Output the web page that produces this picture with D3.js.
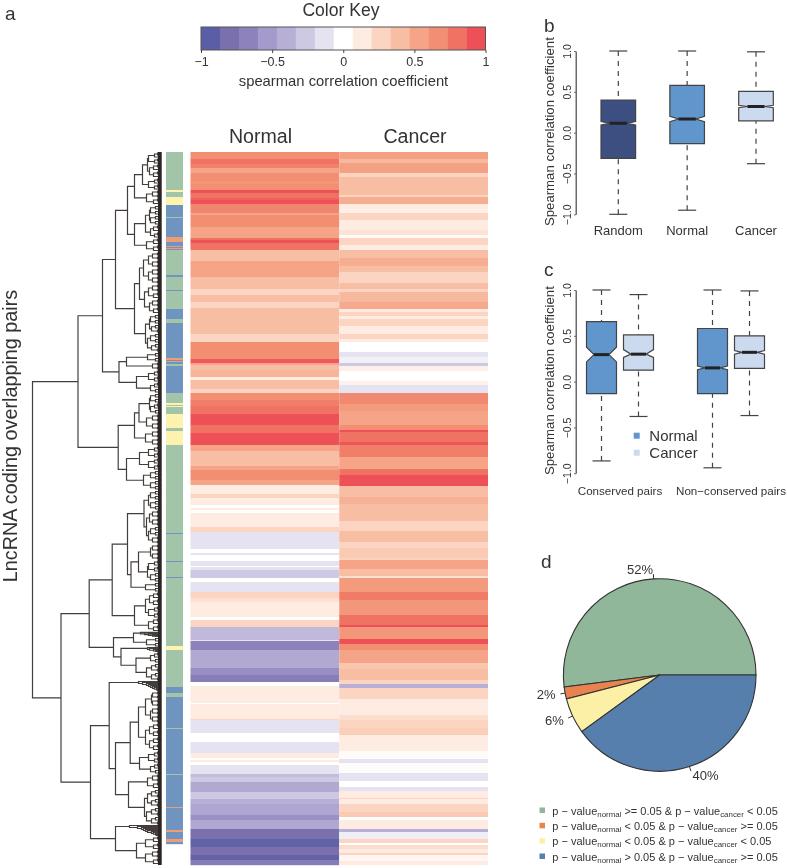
<!DOCTYPE html>
<html>
<head>
<meta charset="utf-8">
<script src="https://cdn.jsdelivr.net/npm/d3@7/dist/d3.min.js"></script>
<style>
body { margin: 0; background: #fff; }
svg { filter: blur(0.35px); }
text { font-family: "Liberation Sans", Arial, sans-serif; fill: #333; }
</style>
</head>
<body>
<div id="chart"></div>
<script>
// heatmap runs: colour level (-7..7, one level = 1/7.5 of the key) and how many rows it lasts
var columns = ['Normal', 'Cancer'];
var normalLevels = [5,6,5.5,4,5,4.7,5,7,6,6.5,7,5.3,4,5,4,6,7,6,3,4,3,2,3,2,3,2,5,6.7,4,3,3.4,1,3,2,5,5.6,6,7,6,7,4,3,4,5,4,1,2,1,0,1,0,1,2,-1,0,-1,0,-1,0,-1,-2,0,-1,2,1.5,1,1,0,2,-2.6,-1,-5,-3.3,-4.5,-5.3,0,1,0,1,2,-1,0,-1,1,0,1,0,-1,-2.5,-2,-3.3,-2,-3,-3.5,-4.4,-3.4,-6,-6.8,-6,-6.7,-5.4];
var normalRows = [7,5,4,5,8,3,6,3,5,2,4,9,2,12,11,2,3,7,11,16,12,6,7,6,26,8,17,4,2,5,7,3,9,4,7,6,8,11,8,12,6,15,4,10,5,9,4,7,3,2,3,14,5,17,4,2,6,5,1,3,8,4,10,6,4,8,7,3,7,13,1,9,18,7,7,4,17,1,15,1,13,9,11,5,2,2,3,9,3,5,10,7,5,11,5,9,10,8,8,5,5];
var cancerLevels = [4.2,3.2,4.2,2,3,3,2,3.6,1,0.8,2,1,1.4,0.3,2,1,3,3.6,3,2,3,2,3.2,3.8,1,2,1,2,1,2,1,0,-1,-0.5,-2,0.8,0,0.7,-1,5.2,4.5,4,5,7,6,6.8,5.6,4,6,7,3,3.5,3,2,3,2,2.5,2,4,3,1.5,4.5,5.7,4.6,6,7,4.6,7,5,4,2.6,3,2,-3,2,1,1.6,2,2.3,1,1,0.2,-1,0.1,-1,0,-1,1,2,1,2,2.5,0,1,-3,-0.6,2,0,1.7,1,2,0.5,1];
var cancerRows = [7,4,10,4,4,14,2,7,5,4,7,10,5,3,7,5,8,8,6,11,6,3,10,7,3,4,3,7,8,5,3,10,5,6,3,5,10,4,8,11,7,14,5,2,10,3,12,12,6,11,11,7,17,10,11,6,10,2,9,7,2,14,8,15,10,2,12,5,6,13,6,11,4,4,11,16,5,8,7,6,10,8,4,10,8,6,4,7,1,5,8,5,3,9,3,7,4,2,4,4,2,6,4];
var levelValues = [-7,-6,-5,-4,-3,-2,-1,0,1,2,3,4,5,6,7];
var levelColors = ['#5B5EA6','#7A70AE','#8D82BB','#A49ACB','#B8AFD6','#CDC9E3','#E5E3F1','#FFFFFF','#FEEBE2','#FBD5C2','#F8BEA4','#F5A487','#F28F73','#EF7262','#EE5058'];
var keyTicks = [-1,-0.5,0,0.5,1];
var keyTickLabels = ['\u22121','\u22120.5','0','0.5','1'];

// side bar classes: 0 green, 1 orange, 2 yellow, 3 blue
var sideClasses = [0,2,0,2,3,0,3,1,3,1,3,1,3,0,3,0,3,0,3,0,3,1,3,1,3,0,3,0,2,0,2,0,2,0,2,0,3,0,3,0,3,0,2,0,3,0,3,0,3,0,3,1,3,1,3,1,3];
var sideRows = [38,2,5,8,12,1,19,5,4,1,1,1,1,25,2,13,1,18,10,4,35,2,1,1,2,2,27,10,2,1,1,7,14,3,14,88,1,27,1,15,1,68,4,37,6,4,31,1,45,1,32,1,22,2,7,3,2,2,19];
var sideColors = ['#A2C5AA','#EE9C76','#FDF2AE','#6F94C0'];

// dendrogram: [merge height, child, child], a bare number is a leaf and the rows it spans
var t2 = [2,1,1], t3 = [3,[1.5,0.75,0.75],1.5];
var t4 = [4,t2,[2.5,1,1]], t5 = [6,t3,t2], t6 = [7,t4,t2], t7 = [8,t4,t3], t8 = [9,t4,t4];
var t9 = [10,t5,t4], t10 = [11,t5,t5], t11 = [11,t6,t5], t12 = [13,t6,t6], t14 = [12,t7,t7];
var ladderA = [21,0.8,[17,0.8,[13,0.8,[9,0.8,[6,0.8,1]]]]];
var ladderB = [14,1,[12,1,[8,1,[6,1,1]]]];
var ladderC = [23,1,[19,1,[15,1,[13,1,[11,1,[9,1,[7,1,[5,1,[4,1,1]]]]]]]]];
var ladderD = [32,1,[24,1,[20,1,[18,1,[16,1,[14,1,[10,1,[8,1,[6,1,[5,1,1]]]]]]]]]];
var treeTop = [83.5,
  [59,
    [46,
      [34,
        [27, [19,[14,t12,t14],t12], [15,t8,t7]],
        [27, [16,[12,t10,t10],[11,t7,t6]], [15,t7,t7]]],
      [27,
        [22,[18,[13,t8,t8],[13,t8,t8]],[17,[13,t8,t7],[12,t8,t7]]],
        [16,[12,t10,t9],[14,t10,t9]]]],
    [42.5,
      [35,[14,t5,t5],t8],
      [25,t12,t11]]],
  [43.3,
    [27,[22.5,[12,t10,t11],[15,t8,t8]],[16,t8,t8]],
    [35,[22,t12,t12],[18,t10,t10]]]];
var treeBottom = [100.5,
  [72.3,
    [49.3,
      [34,
        [17.5,[13,t10,t10],[15,[12,t8,t8],[13,t10,t8]]],
        [30.5,[23,[11,t8,t8],[14,t12,t10]],[16,t5,t5]]],
      [27,[16,t14,t12],[13,t7,t7]]],
    [48,
      [28,ladderA,[15,t5,t5]],
      [40.5,ladderB,[25.5,t11,[15,t9,t9]]]]],
  [71,
    [52.3,
      ladderC,
      [46,
        [31.3,
          [23,[16,[10,t8,t8],[11,t8,t8]],[16,t14,t14]],
          [22,t12,t11]],
        [33,[14,t8,t7],[17,[14,t9,t9],[15,t9,t9]]]]],
    [46,
      ladderD,
      [25,[16,t7,t7],[16,t8,t7]]]]];
var treeRoot = [129, treeTop, treeBottom];

// boxplots: notch low, notch high around the median
var boxStats = ['lo','q1','notchLo','med','notchHi','q3','hi'];
var panelBNames = ['Random','Normal','Cancer'];
var randomBox = [-1,-0.315,0.095,0.115,0.135,0.40,1];
var normalBox = [-0.95,-0.135,0.135,0.167,0.20,0.58,1];
var cancerBox = [-0.38,0.145,0.305,0.32,0.335,0.505,0.99];
var panelBFills = ['#3D4F80','#6096CC','#CCDAEF'];
var conservedNormal = [-0.865,-0.13,0.215,0.295,0.375,0.655,1];
var conservedCancer = [-0.38,0.125,0.265,0.30,0.35,0.51,0.95];
var nonConservedNormal = [-0.94,-0.13,0.13,0.15,0.17,0.58,1];
var nonConservedCancer = [-0.37,0.145,0.30,0.32,0.34,0.50,0.99];
var panelCGroups = ['Conserved pairs','Non\u2212conserved pairs'];
var panelCLegend = ['Normal','Cancer'];
var panelCFills = ['#6096CC','#CCDAEF'];
var axisTicks = [-1,-0.5,0,0.5,1];

// pie
var pieValues = [52,2,6,40];
var pieLabels = ['52%','2%','6%','40%'];
var pieColors = ['#90B799','#E8834F','#FCF0A6','#567FAE'];
var pieLegendOps = [['>=','<'],['<','>='],['<','<'],['>','>=']];

var INK = '#333';
var svg = d3.select('#chart').append('svg').attr('width', 787).attr('height', 868);

function label(txt, x, y, size, anchor, rotate){
    var t = svg.append('text').attr('font-size', size).attr('text-anchor', anchor || 'start').text(txt);
    if (rotate) t.attr('transform', 'translate(' + x + ',' + y + ') rotate(' + rotate + ')');
    else t.attr('x', x).attr('y', y);
    return t;
}

function runs(levels, counts){
    var start = 0;
    return levels.map(function(l, i){
        var r = {v: l, start: start, n: counts[i]};
        start += counts[i];
        return r;
    });
}

var heatColor = d3.scaleLinear().domain(levelValues).range(levelColors);
var rowScale = d3.scaleLinear().domain([0, d3.sum(normalRows)]).range([152, 865]);
var colScale = d3.scaleBand().domain(columns).range([190.5, 488]);

function drawKey(){
    var x = d3.scaleLinear().domain([-1, 1]).range([201, 485.5]);
    var bin = 2 / levelValues.length;
    svg.append('g').selectAll('rect').data(levelValues).enter().append('rect')
        .attr('x', function(d){ return x(-1 + (d + 7) * bin); })
        .attr('width', x(bin) - x(0) + 0.3)
        .attr('y', 27).attr('height', 23)
        .attr('fill', function(d){ return heatColor(d); });
    svg.append('rect').attr('x', 201).attr('y', 27).attr('width', 284.5).attr('height', 23)
        .attr('fill', 'none').attr('stroke', '#555').attr('stroke-width', 1);
    var axis = d3.axisBottom(x).tickValues(keyTicks).tickSize(3)
        .tickFormat(function(d, i){ return keyTickLabels[i]; });
    var g = svg.append('g').attr('transform', 'translate(0,50)').call(axis);
    g.select('.domain').remove();
    g.selectAll('line').attr('stroke', '#444');
    g.selectAll('text').attr('font-size', 12.5).attr('dy', 10).attr('fill', INK);
    label('Color Key', 341, 16, 17.6, 'middle');
    label('spearman correlation coefficient', 343.5, 86, 14.8, 'middle');
}

function drawHeatmap(){
    label('a', 5, 20, 19);
    label('Normal', 260.5, 143, 19.6, 'middle');
    label('Cancer', 415, 143, 19.6, 'middle');
    label('LncRNA coding overlapping pairs', 17, 436, 19.8, 'middle', -90);
    var sets = [runs(normalLevels, normalRows), runs(cancerLevels, cancerRows)];
    columns.forEach(function(c, i){
        svg.append('g').selectAll('rect').data(sets[i]).enter().append('rect')
            .attr('x', colScale(c)).attr('width', colScale.bandwidth())
            .attr('y', function(d){ return rowScale(d.start); })
            .attr('height', function(d){ return rowScale(d.start + d.n) - rowScale(d.start) + 0.2; })
            .attr('fill', function(d){ return heatColor(d.v); });
    });
    svg.append('g').selectAll('rect').data(runs(sideClasses, sideRows)).enter().append('rect')
        .attr('x', 166).attr('width', 17)
        .attr('y', function(d){ return rowScale(d.start); })
        .attr('height', function(d){ return rowScale(d.start + d.n) - rowScale(d.start) + 0.2; })
        .attr('fill', function(d){ return sideColors[d.v]; });
}

function drawTree(){
    var x = d3.scaleLinear().domain([0, 129]).range([161.5, 32.5]);
    var root = d3.hierarchy(treeRoot, function(d){ return Array.isArray(d) ? d.slice(1) : null; });
    var cursor = 0;
    root.eachAfter(function(n){
        if (n.children){
            n.h = n.data[0];
            n.row = d3.mean(n.children, function(c){ return c.row; });
        } else {
            n.h = 0;
            n.row = cursor + n.data / 2;
            cursor += n.data;
        }
    });
    var rows = d3.scaleLinear().domain([0, cursor]).range([152, 865]);
    var path = d3.path();
    root.each(function(n){
        if (!n.children) return;
        n.children.forEach(function(c){
            path.moveTo(x(n.h), rows(n.row));
            path.lineTo(x(n.h), rows(c.row));
            path.lineTo(x(c.h), rows(c.row));
        });
    });
    svg.append('path').attr('d', path.toString()).attr('fill', 'none')
        .attr('stroke', '#433e3c').attr('stroke-width', 1.2);
    svg.append('rect').attr('x', x(3.5)).attr('y', 152).attr('width', x(0) - x(3.5)).attr('height', 713)
        .attr('fill', '#2b2523');
}

function drawBox(g, y, stats, cx, half, fill){
    var s = {};
    boxStats.forEach(function(k, i){ s[k] = y(stats[i]); });
    var waist = half * 0.5;
    var capHalf = 9;
    var shape = [
        [cx - half, s.q3], [cx + half, s.q3], [cx + half, s.notchHi], [cx + waist, s.med],
        [cx + half, s.notchLo], [cx + half, s.q1], [cx - half, s.q1], [cx - half, s.notchLo],
        [cx - waist, s.med], [cx - half, s.notchHi]
    ];
    [[s.hi, s.q3], [s.lo, s.q1]].forEach(function(w){
        g.append('line').attr('x1', cx).attr('x2', cx).attr('y1', w[0]).attr('y2', w[1])
            .attr('stroke', '#444').attr('stroke-width', 1.2).attr('stroke-dasharray', '5,5');
        g.append('line').attr('x1', cx - capHalf).attr('x2', cx + capHalf).attr('y1', w[0]).attr('y2', w[0])
            .attr('stroke', '#444').attr('stroke-width', 1.2);
    });
    g.append('polygon').attr('points', shape.join(' ')).attr('fill', fill)
        .attr('stroke', '#444').attr('stroke-width', 1.2);
    g.append('line').attr('x1', cx - waist).attr('x2', cx + waist).attr('y1', s.med).attr('y2', s.med)
        .attr('stroke', '#222').attr('stroke-width', 3);
}

function drawAxis(y, yTitle){
    var axis = d3.axisLeft(y).tickValues(axisTicks).tickSize(1.5).tickSizeOuter(0)
        .tickFormat(function(d){ return d3.format('.1f')(d).replace('-', '\u2212'); });
    var g = svg.append('g').attr('transform', 'translate(575.7,0)').call(axis);
    g.select('.domain').attr('stroke', '#444').attr('stroke-width', 1.2);
    g.selectAll('line').attr('stroke', '#444');
    g.selectAll('text').attr('font-size', 10.5).attr('fill', '#555')
        .attr('x', null).attr('dy', null)
        .attr('text-anchor', 'middle')
        .attr('transform', 'translate(-5,0) rotate(-90)');
    label('Spearman correlation coefficient', yTitle, (y(1) + y(-1)) / 2 - 1, 13.2, 'middle', -90);
}

function drawPanelB(){
    var y = d3.scaleLinear().domain([-1, 1]).range([214.3, 51]);
    label('b', 544, 32, 19);
    drawAxis(y, 554);
    var x = d3.scalePoint().domain(panelBNames).range([618.3, 756]);
    var sets = [randomBox, normalBox, cancerBox];
    var g = svg.append('g');
    panelBNames.forEach(function(name, i){
        drawBox(g, y, sets[i], x(name), 17.3, panelBFills[i]);
        label(name, x(name), 235, 13, 'middle');
    });
}

function drawPanelC(){
    var y = d3.scaleLinear().domain([-1, 1]).range([473.3, 290]);
    label('c', 544, 276, 19);
    drawAxis(y, 554);
    var x = d3.scalePoint().domain(panelCGroups).range([620, 731]);
    var g = svg.append('g');
    var sets = [[conservedNormal, conservedCancer], [nonConservedNormal, nonConservedCancer]];
    panelCGroups.forEach(function(name, i){
        drawBox(g, y, sets[i][0], x(name) - 18.5, 15, panelCFills[0]);
        drawBox(g, y, sets[i][1], x(name) + 18.5, 15, panelCFills[1]);
        label(name, x(name), 495, 11.6, 'middle');
    });
    panelCLegend.forEach(function(name, i){
        svg.append('rect').attr('x', 633.7).attr('y', 432.7 + i * 17).attr('width', 6).attr('height', 6)
            .attr('fill', panelCFills[i]);
        label(name, 649.3, 440.5 + i * 17, 15);
    });
}

function drawPanelD(){
    var r = 96.3, cx = 659.7, cy = 675;
    label('d', 541, 568, 19);
    var pie = d3.pie().sort(null).startAngle(Math.PI / 2).endAngle(Math.PI / 2 - 2 * Math.PI);
    var arc = d3.arc().innerRadius(0).outerRadius(r);
    var g = svg.append('g').attr('transform', 'translate(' + cx + ',' + cy + ')');
    pie(pieValues).forEach(function(s, i){
        g.append('path').attr('d', arc(s)).attr('fill', pieColors[i]).attr('stroke', '#333').attr('stroke-width', 1.1);
        var mid = (s.startAngle + s.endAngle) / 2;
        var dx = Math.sin(mid), dy = -Math.cos(mid);
        g.append('line').attr('x1', dx * r).attr('y1', dy * r).attr('x2', dx * r * 1.05).attr('y2', dy * r * 1.05)
            .attr('stroke', '#333').attr('stroke-width', 1);
        g.append('text').attr('x', dx * r * 1.1).attr('y', dy * r * 1.1).attr('dy', '0.35em')
            .attr('font-size', 13).attr('text-anchor', dx < 0 ? 'end' : 'start').text(pieLabels[i]);
    });
    pieLegendOps.forEach(function(ops, i){
        var y = d3.scaleLinear().domain([0, 3]).range([814.5, 860.5])(i);
        svg.append('rect').attr('x', 539.5).attr('y', y - 7).attr('width', 5.5).attr('height', 5.5)
            .attr('fill', pieColors[i]);
        var t = svg.append('text').attr('x', 552.3).attr('y', y).attr('font-size', 11);
        t.append('tspan').text('p \u2212 value');
        t.append('tspan').attr('font-size', 7.9).attr('dy', 2).text('normal');
        t.append('tspan').attr('dy', -2).text(' ' + ops[0] + ' 0.05 & p \u2212 value');
        t.append('tspan').attr('font-size', 7.9).attr('dy', 2).text('cancer');
        t.append('tspan').attr('dy', -2).text(' ' + ops[1] + ' 0.05');
    });
}

drawKey();
drawHeatmap();
drawTree();
drawPanelB();
drawPanelC();
drawPanelD();
</script>
</body>
</html>
